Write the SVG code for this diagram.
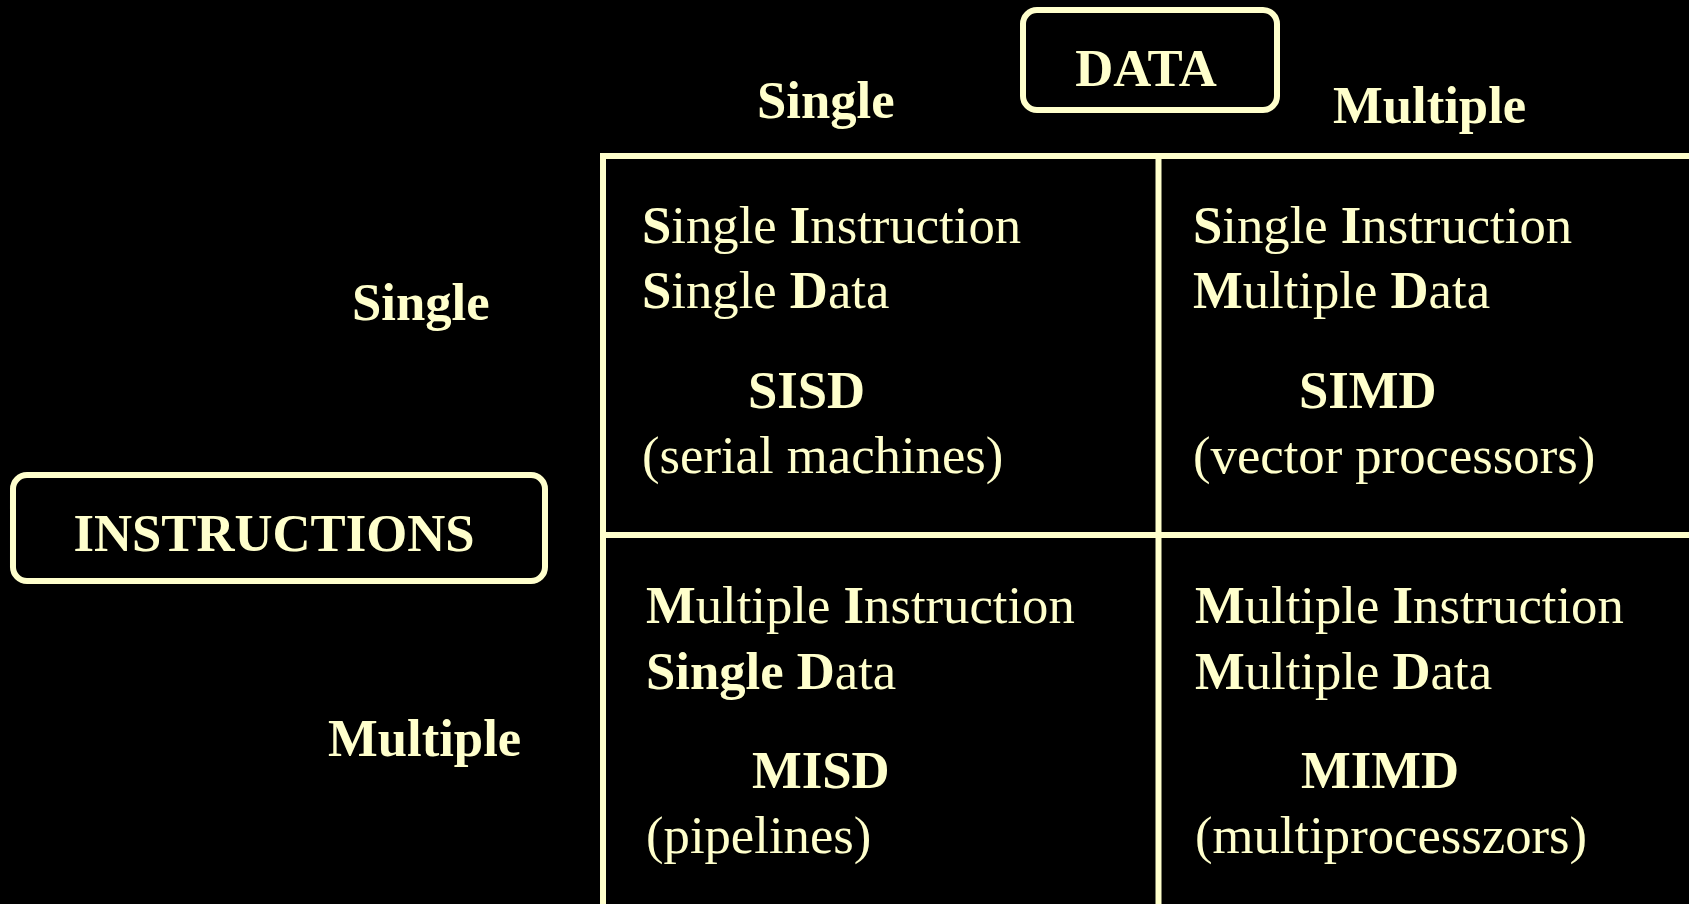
<svg xmlns="http://www.w3.org/2000/svg" width="1689" height="904" viewBox="0 0 1689 904">
<style>
text{font-family:"Liberation Serif","Times New Roman",serif;font-size:52.7px;fill:#FFFFCC}
.b{font-weight:bold}
.box{fill:none;stroke:#FFFFCC;stroke-width:6}
.ln{stroke:#FFFFCC;stroke-width:6;fill:none}
</style>
<rect width="1689" height="904" fill="#000"/>
<g id="connectors">
<line class="ln" x1="600" y1="156" x2="1689" y2="156"/>
<line class="ln" x1="603" y1="153" x2="603" y2="904"/>
<line class="ln" x1="1158.5" y1="156" x2="1158.5" y2="904"/>
<line class="ln" x1="603" y1="535" x2="1689" y2="535"/>
</g>
<g id="data">
<rect class="box" x="1023" y="10" width="254" height="100" rx="14"/>
<text class="b" x="1146" y="86" text-anchor="middle">DATA</text>
</g>
<g id="instructions">
<rect class="box" x="13" y="475" width="532" height="106" rx="14"/>
<text class="b" x="274" y="551" text-anchor="middle">INSTRUCTIONS</text>
</g>
<g id="col-single"><text class="b" x="757" y="118">Single</text></g>
<g id="col-multiple"><text class="b" x="1333" y="123">Multiple</text></g>
<g id="row-single"><text class="b" x="352" y="320">Single</text></g>
<g id="row-multiple"><text class="b" x="328" y="756">Multiple</text></g>
<g id="sisd">
<text x="642" y="243"><tspan class="b">S</tspan>ingle <tspan class="b">I</tspan>nstruction</text>
<text x="642" y="308"><tspan class="b">S</tspan>ingle <tspan class="b">D</tspan>ata</text>
<text class="b" x="748" y="408">SISD</text>
<text x="642" y="473">(serial machines)</text>
</g>
<g id="simd">
<text x="1193" y="243"><tspan class="b">S</tspan>ingle <tspan class="b">I</tspan>nstruction</text>
<text x="1193" y="308"><tspan class="b">M</tspan>ultiple <tspan class="b">D</tspan>ata</text>
<text class="b" x="1299" y="408">SIMD</text>
<text x="1193" y="473">(vector processors)</text>
</g>
<g id="misd">
<text x="646" y="623"><tspan class="b">M</tspan>ultiple <tspan class="b">I</tspan>nstruction</text>
<text x="646" y="689"><tspan class="b">Single D</tspan>ata</text>
<text class="b" x="752" y="788">MISD</text>
<text x="646" y="853">(pipelines)</text>
</g>
<g id="mimd">
<text x="1195" y="623"><tspan class="b">M</tspan>ultiple <tspan class="b">I</tspan>nstruction</text>
<text x="1195" y="689"><tspan class="b">M</tspan>ultiple <tspan class="b">D</tspan>ata</text>
<text class="b" x="1301" y="788">MIMD</text>
<text x="1195" y="853">(multiprocesszors)</text>
</g>
</svg>
